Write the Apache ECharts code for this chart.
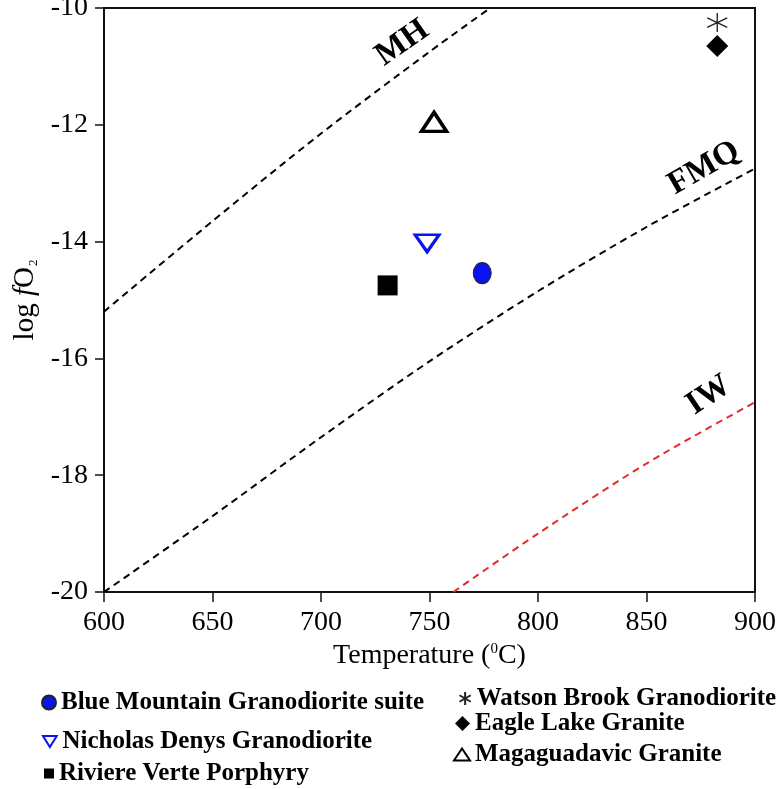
<!DOCTYPE html>
<html>
<head>
<meta charset="utf-8">
<script src="https://cdn.jsdelivr.net/npm/echarts@6/dist/echarts.min.js"></script>
<style>
  html, body { margin: 0; padding: 0; background: #fff; }
  #chart { width: 782px; height: 789px; }
</style>
</head>
<body>
<div id="chart"></div>
<script>
// buffer curves: [T (°C), log fO2]
var mhCurve  = [[600, -15.2], [650, -13.65], [700, -12.15], [750, -10.75], [778, -10]];
var fmqCurve = [[600, -20], [650, -18.7], [700, -17.35], [750, -16.05], [800, -14.85], [850, -13.75], [900, -12.75]];
var iwCurve  = [[761, -20], [800, -19.0], [850, -17.8], [900, -16.75]];

// curve labels: [text, T, log fO2]
var curveLabels = [['MH', 737.5, -10.6], ['FMQ', 876.5, -12.74], ['IW', 878.7, -16.63]];

// samples
var blueMountain  = [[774.3, -14.54]];
var nicholasDenys = [[748.9, -14.03]];
var riviereVerte  = [[730.7, -14.75]];
var watsonBrook   = [[882.6, -10.25]];
var eagleLake     = [[882.6, -10.65]];
var magaguadavic  = [[752.1, -11.95]];

var xTicks = [600, 650, 700, 750, 800, 850, 900];
var yTicks = [-20, -18, -16, -14, -12, -10];

var serif = 'Liberation Serif';
var ellipse = 'path://M50,0A50,50 0 1,1 50,100A50,50 0 1,1 50,0Z';
var asterisk = 'path://M0,-10L0,10M-8.66,-5L8.66,5M-8.66,5L8.66,-5';
var downTriangle = 'path://M0,0L20,0L10,16Z';

function curve(name, data, color) {
  return {
    name: name, type: 'line', data: data, smooth: 0.3, symbol: 'none', silent: true,
    lineStyle: { color: color, width: 2, type: [7, 5] }, z: 2
  };
}

function legendFor(name, left, top, w, h, icon) {
  return {
    data: [icon ? { name: name, icon: icon } : name], left: left, top: top, itemWidth: w, itemHeight: h,
    selectedMode: false, padding: 0,
    textStyle: { fontFamily: serif, fontWeight: 'bold', fontSize: 25, color: '#000' }
  };
}

var chart = echarts.init(document.getElementById('chart'));
chart.setOption({
  backgroundColor: '#fff',
  animation: false,
  grid: {
    left: 104, right: 27, top: 8, bottom: 197, outerBoundsMode: 'none', containLabel: false,
    show: true, borderColor: '#111', borderWidth: 2
  },
  xAxis: {
    type: 'value', min: xTicks[0], max: xTicks[xTicks.length - 1], interval: 50,
    name: '{t|Temperature (}{s|0}{t|C)}', nameLocation: 'middle', nameGap: 50,
    nameTextStyle: {
      rich: {
        t: { fontFamily: serif, fontSize: 28, color: '#000' },
        s: { fontFamily: serif, fontSize: 15, color: '#000', verticalAlign: 'top', padding: [0, 0, 10, 0] }
      }
    },
    axisLine: { lineStyle: { color: '#111', width: 2 } },
    axisTick: { length: 10, lineStyle: { color: '#111', width: 1.5 } },
    axisLabel: { fontFamily: serif, fontSize: 28, color: '#000', margin: 17 },
    splitLine: { show: false }
  },
  yAxis: {
    type: 'value', min: yTicks[0], max: yTicks[yTicks.length - 1], interval: 2,
    name: '{t|log }{i|f}{t|O}{s|2}', nameLocation: 'middle', nameGap: 64, nameRotate: 90,
    nameTextStyle: {
      rich: {
        t: { fontFamily: serif, fontSize: 29, color: '#000' },
        i: { fontFamily: serif, fontSize: 29, fontStyle: 'italic', color: '#000' },
        s: { fontFamily: serif, fontSize: 13, color: '#000', verticalAlign: 'bottom', padding: [9, 0, 0, 1] }
      }
    },
    axisLine: { lineStyle: { color: '#111', width: 2 } },
    axisTick: { length: 9, lineStyle: { color: '#111', width: 1.5 } },
    axisLabel: { fontFamily: serif, fontSize: 28, color: '#000', margin: 16 },
    splitLine: { show: false }
  },
  legend: [
    legendFor('Blue Mountain Granodiorite suite', 41, 690, 14, 15),
    legendFor('Nicholas Denys Granodiorite', 42, 729, 15, 11, downTriangle),
    legendFor('Riviere Verte Porphyry', 44, 761, 10, 10),
    legendFor('Watson Brook Granodiorite', 457, 686, 13, 13),
    legendFor('Eagle Lake Granite', 455, 711, 15, 15),
    legendFor('Magaguadavic Granite', 453, 742, 16, 12)
  ],
  series: [
    curve('MH', mhCurve, '#000'),
    curve('FMQ', fmqCurve, '#000'),
    curve('IW', iwCurve, '#e52a2a'),
    {
      name: 'labels', type: 'scatter', silent: true, symbolSize: 0,
      itemStyle: { color: '#000', opacity: 1 },
      data: curveLabels.map(function (d, i) {
        return { name: d[0], value: [d[1], d[2]], label: { rotate: [35, 30, 34][i] } };
      }),
      label: {
        show: true, position: 'inside', formatter: '{b}',
        fontFamily: serif, fontWeight: 'bold', fontSize: 33, color: '#000',
        textBorderWidth: 0, textBorderColor: 'transparent'
      }
    },
    {
      name: 'Blue Mountain Granodiorite suite', type: 'scatter', data: blueMountain,
      symbol: ellipse, symbolSize: [18, 21],
      itemStyle: { color: '#0a14f0', borderColor: '#222', borderWidth: 1, opacity: 1 }, z: 5
    },
    {
      name: 'Nicholas Denys Granodiorite', type: 'scatter', data: nicholasDenys,
      symbol: 'triangle', symbolRotate: 180, symbolSize: [24, 17],
      itemStyle: { color: 'rgba(255,255,255,0)', borderColor: '#0a14f0', borderWidth: 3, opacity: 1 }, z: 5
    },
    {
      name: 'Riviere Verte Porphyry', type: 'scatter', data: riviereVerte,
      symbol: 'rect', symbolSize: 20,
      itemStyle: { color: '#000', opacity: 1 }, z: 5
    },
    {
      name: 'Watson Brook Granodiorite', type: 'scatter', data: watsonBrook,
      symbol: asterisk, symbolSize: [20, 19],
      itemStyle: { color: 'none', borderColor: '#222', borderWidth: 1.3, opacity: 1 }, z: 5
    },
    {
      name: 'Eagle Lake Granite', type: 'scatter', data: eagleLake,
      symbol: 'diamond', symbolSize: 22,
      itemStyle: { color: '#000', opacity: 1 }, z: 5
    },
    {
      name: 'Magaguadavic Granite', type: 'scatter', data: magaguadavic,
      symbol: 'triangle', symbolSize: [25, 19],
      itemStyle: { color: 'rgba(255,255,255,0)', borderColor: '#000', borderWidth: 3.5, opacity: 1 }, z: 5
    }
  ]
});
</script>
</body>
</html>
